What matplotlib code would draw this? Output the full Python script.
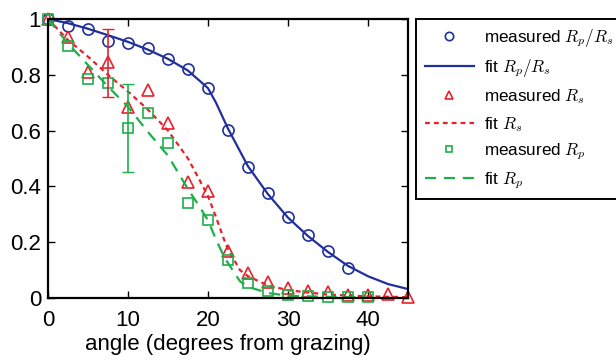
import matplotlib
matplotlib.use("Agg")
from matplotlib import pyplot as plt

plt.rcParams['font.family'] = ['Liberation Sans', 'DejaVu Sans']
plt.rcParams['mathtext.fontset'] = 'cm'

# measured points (every 2.5 degrees)
angle = [0, 2.5, 5, 7.5, 10, 12.5, 15, 17.5, 20, 22.5, 25, 27.5, 30, 32.5, 35, 37.5, 40, 42.5, 45]
ratio_meas = [1.0, 0.975, 0.963, 0.922, 0.913, 0.897, 0.857, 0.82, 0.752, 0.602, 0.471, 0.377, 0.291, 0.226, 0.168, 0.106]
rs_meas = [1.0, 0.935, 0.81, 0.847, 0.684, 0.745, 0.627, 0.417, 0.385, 0.17, 0.088, 0.057, 0.037, 0.026, 0.02, 0.012, 0.01, 0.014, 0.005]
rp_meas = [1.0, 0.903, 0.784, 0.772, 0.608, 0.662, 0.557, 0.34, 0.28, 0.136, 0.053, 0.026, 0.011, 0.006, 0.005, 0.004, 0.004]

# error bars (one on each of Rs and Rp)
rs_err_angle = 7.5
rs_err = [[0.125], [0.116]]
rp_err_angle = 10
rp_err = [[0.158], [0.158]]

# fit curves
ratio_fit_angle = [0, 2.5, 5, 7.5, 10, 12.5, 15, 17.5, 20, 21, 22.5, 25, 27.5, 30, 32.5, 35, 37.5, 40, 42.5, 45]
ratio_fit = [1.0, 0.985, 0.965, 0.942, 0.918, 0.89, 0.857, 0.815, 0.752, 0.70, 0.607, 0.472, 0.372, 0.288, 0.222, 0.165, 0.115, 0.078, 0.05, 0.032]
rs_fit_angle = [0, 2.5, 5, 7.5, 10, 12.5, 15, 17.5, 19, 20, 21, 22, 22.5, 24, 25, 27.5, 30, 35, 40, 45]
rs_fit = [1.0, 0.925, 0.865, 0.80, 0.74, 0.675, 0.60, 0.50, 0.42, 0.365, 0.29, 0.21, 0.175, 0.10, 0.078, 0.045, 0.028, 0.012, 0.006, 0.003]
rp_fit_angle = [0, 2.5, 5, 7.5, 10, 12.5, 15, 17.5, 19, 20, 21, 22, 22.5, 24, 25, 27.5, 30, 35, 40]
rp_fit = [1.0, 0.912, 0.835, 0.758, 0.685, 0.595, 0.51, 0.39, 0.325, 0.278, 0.21, 0.148, 0.125, 0.06, 0.04, 0.018, 0.008, 0.004, 0.002]

blue = '#1f2f9e'
red = '#e8202a'
green = '#1fae4b'

fig = plt.figure(figsize=(6.16, 3.6), dpi=100)
ax = fig.add_axes([48/616, 62/360, 360/616, 279/360])

h1, = ax.plot(angle[:len(ratio_meas)], ratio_meas, 'o', ms=8, mfc='none', mec=blue, mew=1.2,
              clip_on=False, label=r'measured $R_p/R_s$')
h2, = ax.plot(ratio_fit_angle, ratio_fit, '-', color=blue, lw=1.6, label=r'fit $R_p/R_s$')
h3, = ax.plot(angle[:len(rs_meas)], rs_meas, '^', ms=8, mfc='none', mec=red, mew=1.2,
              clip_on=False, label=r'measured $R_s$')
h4, = ax.plot(rs_fit_angle, rs_fit, color=red, lw=1.6, ls=(0, (2.2, 1.8)), label=r'fit $R_s$')
h5, = ax.plot(angle[:len(rp_meas)], rp_meas, 's', ms=6.5, mfc='none', mec=green, mew=1.2,
              clip_on=False, label=r'measured $R_p$')
h6, = ax.plot(rp_fit_angle, rp_fit, color=green, lw=1.6, ls=(0, (5, 3.5)), label=r'fit $R_p$')

ax.errorbar([rs_err_angle], [rs_meas[3]], yerr=rs_err, fmt='none', ecolor=red, elinewidth=1.2, capsize=4)
ax.errorbar([rp_err_angle], [rp_meas[4]], yerr=rp_err, fmt='none', ecolor=green, elinewidth=1.2, capsize=4)

ax.set_xlim(0, 45)
ax.set_ylim(0, 1)
ax.set_xticks([0, 10, 20, 30, 40])
ax.set_yticks([0, 0.2, 0.4, 0.6, 0.8, 1])
ax.set_yticklabels(['0', '0.2', '0.4', '0.6', '0.8', '1'])
ax.tick_params(direction='in', top=True, right=True, length=5, width=1, labelsize=16)
ax.tick_params(axis='x', pad=9)
ax.tick_params(axis='y', pad=5)
for s in ax.spines.values():
    s.set_linewidth(1.6)
ax.set_xlabel('angle (degrees from grazing)', fontsize=16, labelpad=2)

leg = fig.legend(handles=[h1, h2, h3, h4, h5, h6], loc='upper left',
                 bbox_to_anchor=(416/616, 1 - 19/360), borderaxespad=0,
                 fontsize=12.3, numpoints=1, markerscale=0.75, handlelength=2.9, handletextpad=0.6,
                 borderpad=0.5, labelspacing=0.5, fancybox=False, framealpha=1)
leg.get_frame().set_edgecolor('black')
leg.get_frame().set_linewidth(1.4)

fig.savefig('out.png', dpi=100)
